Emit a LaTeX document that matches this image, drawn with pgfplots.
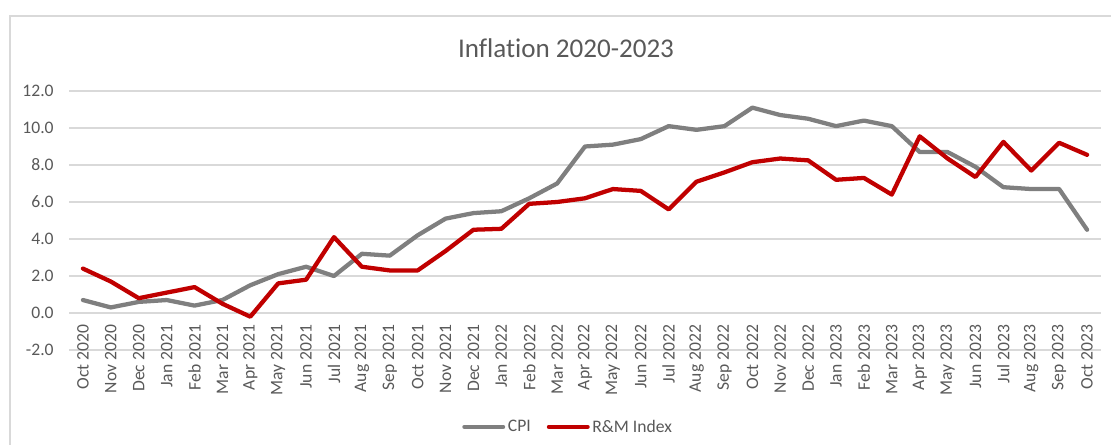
\documentclass[border=0pt]{standalone}
\usepackage{pgfplots}
\pgfplotsset{compat=1.18}
\usepackage{pgfplotstable}
\usepackage{fontspec}
\setmainfont[Ligatures=NoCommon]{Carlito}
\definecolor{cpigray}{HTML}{7F7F7F}
\definecolor{rmred}{HTML}{C00000}
\definecolor{gridgray}{HTML}{D9D9D9}
\definecolor{textgray}{HTML}{595959}
\definecolor{bordergray}{HTML}{D9D9D9}
\pgfplotstableread{
x cpi rm
0 0.7 2.4
1 0.3 1.7
2 0.6 0.8
3 0.7 1.1
4 0.4 1.4
5 0.7 0.5
6 1.5 -0.2
7 2.1 1.6
8 2.5 1.8
9 2.0 4.1
10 3.2 2.5
11 3.1 2.3
12 4.2 2.3
13 5.1 3.35
14 5.4 4.5
15 5.5 4.55
16 6.2 5.9
17 7.0 6.0
18 9.0 6.2
19 9.1 6.7
20 9.4 6.6
21 10.1 5.6
22 9.9 7.1
23 10.1 7.6
24 11.1 8.15
25 10.7 8.35
26 10.5 8.25
27 10.1 7.2
28 10.4 7.3
29 10.1 6.4
30 8.7 9.55
31 8.7 8.35
32 7.9 7.35
33 6.8 9.25
34 6.7 7.7
35 6.7 9.2
36 4.5 8.55
}\datatable
\begin{document}
\begin{tikzpicture}
\useasboundingbox (0pt,0pt) rectangle (833.25pt,333.75pt);
\draw[bordergray, line width=1pt] (7.5pt,-5pt) -- (7.5pt,321.75pt) -- (840pt,321.75pt);
\node[textgray, font=\fontsize{20.3}{23}\selectfont] at (424.5pt,297.75pt) {Inflation 2020-2023};
\begin{axis}[
  at={(51.75pt,71.25pt)}, anchor=south west,
  scale only axis, width=774pt, height=194.25pt,
  xmin=-0.5, xmax=36.5, ymin=-2, ymax=12,
  axis line style={draw=none},
  axis x line*=bottom,
  x axis line style={draw=gridgray, line width=1pt},
  tick style={draw=none},
  ytick={-2,0,2,4,6,8,10,12},
  ymajorgrids, grid style={gridgray, line width=1pt},
  xtick={0,...,36},
  xticklabels={Oct 2020,Nov 2020,Dec 2020,Jan 2021,Feb 2021,Mar 2021,Apr 2021,May 2021,Jun 2021,Jul 2021,Aug 2021,Sep 2021,Oct 2021,Nov 2021,Dec 2021,Jan 2022,Feb 2022,Mar 2022,Apr 2022,May 2022,Jun 2022,Jul 2022,Aug 2022,Sep 2022,Oct 2022,Nov 2022,Dec 2022,Jan 2023,Feb 2023,Mar 2023,Apr 2023,May 2023,Jun 2023,Jul 2023,Aug 2023,Sep 2023,Oct 2023},
  xticklabel shift=-20pt,
  x tick label style={rotate=90, anchor=east, font=\fontsize{13.2}{15}\selectfont, text=textgray, inner sep=1pt},
  y tick label style={font=\fontsize{13.2}{15}\selectfont, text=textgray, /pgf/number format/fixed, /pgf/number format/fixed zerofill, /pgf/number format/precision=1, /pgf/number format/assume math mode=true},
  yticklabel style={xshift=-8pt},
  legend columns=2,
  legend style={at={(0.484,-0.297)}, anchor=center, draw=none, fill=none, font=\fontsize{13.2}{15}\selectfont, text=textgray, /tikz/every even column/.append style={column sep=10pt}},
  legend image code/.code={\draw[#1] (0pt,0pt) -- (29pt,0pt);},
  legend cell align=left,
]
\addplot[cpigray, line width=3.2pt, line join=round, line cap=round] table[x=x, y=cpi] {\datatable};
\addlegendentry{CPI}
\addplot[rmred, line width=3.2pt, line join=round, line cap=round] table[x=x, y=rm] {\datatable};
\addlegendentry{R\&M Index}
\end{axis}
\end{tikzpicture}
\end{document}
